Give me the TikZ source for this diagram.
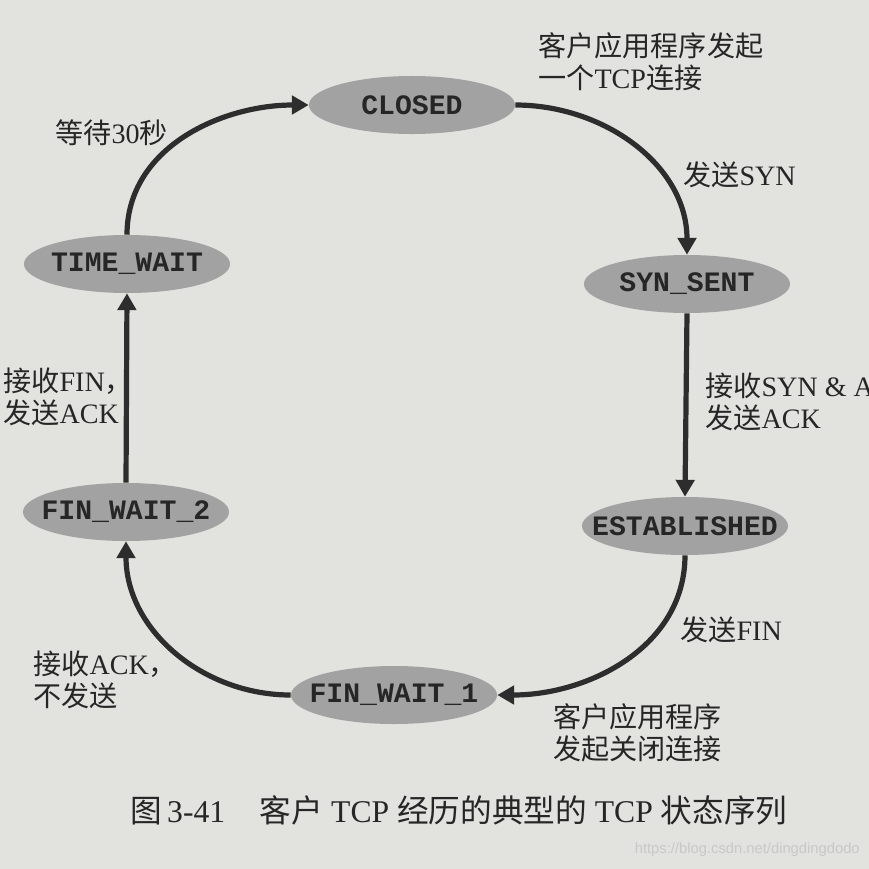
\documentclass[tikz,border=0pt]{standalone}
\usepackage{fontspec}
\setmainfont{Liberation Serif}
\setmonofont{Liberation Mono}
\newfontfamily\cjk{Noto Sans CJK SC}
\newfontfamily\wmfont{Liberation Sans}
\usetikzlibrary{shapes.geometric,arrows.meta}
\definecolor{paper}{RGB}{226,226,223}
\definecolor{ovalgray}{RGB}{162,162,162}
\definecolor{ink}{RGB}{38,38,38}
\definecolor{wire}{RGB}{45,45,45}
\definecolor{wmgray}{RGB}{200,200,200}
\newcommand\zh[1]{{\cjk #1}}
\tikzset{
  state/.style={ellipse, fill=ovalgray, inner sep=0pt, minimum width=5.15cm,
    minimum height=1.45cm, text=ink, font=\ttfamily\bfseries\fontsize{20}{24}\selectfont},
  edge/.style={line width=3.7pt, draw=wire, -{Triangle[length=12pt,width=13pt]}},
  lbl/.style={inner sep=0pt, align=left, text=ink, font=\fontsize{20}{23}\selectfont}
}

\begin{document}
\begin{tikzpicture}[x=0.025cm,y=0.025cm]
\useasboundingbox (0,0) rectangle (869,-869);
\clip (0,0) rectangle (869,-869);
\fill[paper] (0,0) rectangle (869,-869);

\node[state] (closed) at (412,-105) {\makebox[0pt]{CLOSED}};
\node[state] (synsent) at (687,-284) {\makebox[0pt]{SYN\_SENT}};
\node[state] (established) at (685,-526) {\makebox[0pt]{ESTABLISHED}};
\node[state] (finwait1) at (394,-695) {\makebox[0pt]{FIN\_WAIT\_1}};
\node[state] (finwait2) at (126,-512) {\makebox[0pt]{FIN\_WAIT\_2}};
\node[state] (timewait) at (127,-264) {\makebox[0pt]{TIME\_WAIT}};

\draw[edge] (closed.east) to[out=0,in=90] (synsent.north);
\draw[edge] (synsent.south) -- (established.north);
\draw[edge] (established.south) to[out=-90,in=0] (finwait1.east);
\draw[edge] (finwait1.west) to[out=180,in=-90] (finwait2.south);
\draw[edge] (finwait2.north) -- (timewait.south);
\draw[edge] (timewait.north) to[out=90,in=180] (closed.west);

\node[lbl, anchor=west] (open) at (538,-62) {\zh{客户应用程序发起}\\\zh{一个}TCP\zh{连接}};
\node[lbl, anchor=west] (sendsyn) at (683,-175) {\zh{发送}SYN};
\node[lbl, anchor=west] (recvsynack) at (705,-402) {\zh{接收}SYN \& ACK\zh{，}\\\zh{发送}ACK};
\node[lbl, anchor=west] (sendfin) at (680,-630) {\zh{发送}FIN};
\node[lbl, anchor=west] (close) at (553,-733) {\zh{客户应用程序}\\\zh{发起关闭连接}};
\node[lbl, anchor=west] (recvack) at (33,-680) {\zh{接收}ACK\zh{，}\\\zh{不发送}};
\node[lbl, anchor=west] (recvfin) at (3,-397) {\zh{接收}FIN\zh{，}\\\zh{发送}ACK};
\node[lbl, anchor=west] (wait) at (55,-133) {\zh{等待}30\zh{秒}};

\node[lbl, anchor=west, font=\fontsize{22.5}{26}\selectfont] (caption) at (130,-810)
  {\zh{图}\,3-41\hspace{1.1em}\zh{客户} TCP \zh{经历的典型的} TCP \zh{状态序列}};
\node[anchor=east, inner sep=0pt, text=wmgray, font=\wmfont\fontsize{10.5}{12}\selectfont] (mark) at (860,-850)
  {https://blog.csdn.net/dingdingdodo};
\end{tikzpicture}
\end{document}
